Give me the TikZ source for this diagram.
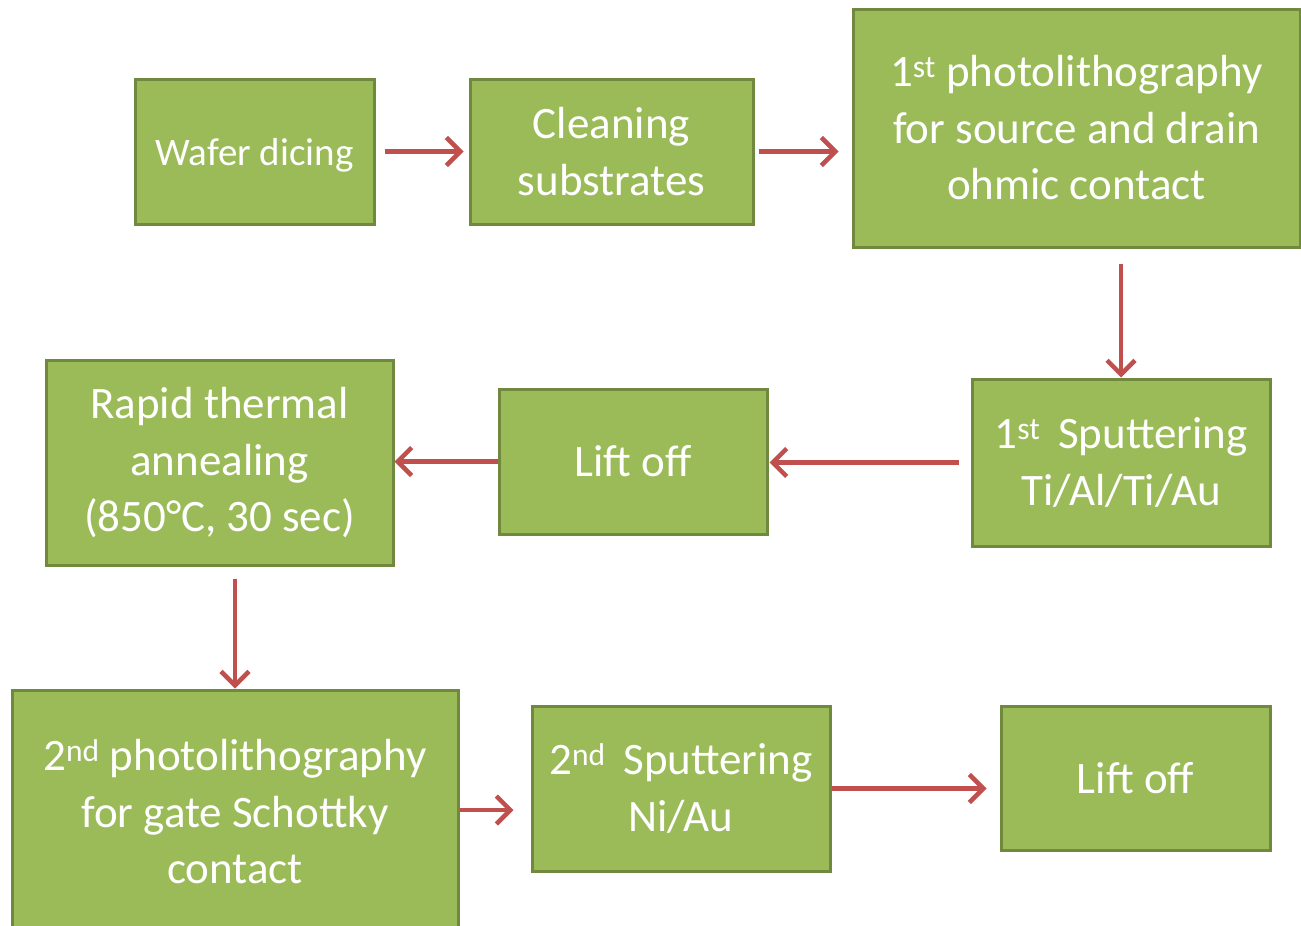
\documentclass[tikz,border=0pt]{standalone}
\usepackage{fontspec}
\setmainfont{Carlito}
\usetikzlibrary{arrows.meta}
\definecolor{boxfill}{HTML}{9BBB59}
\definecolor{boxline}{HTML}{71893F}
\definecolor{arrowred}{HTML}{C0504D}
\tikzset{
  stepbox/.style={draw=boxline, fill=boxfill, line width=3pt, text=white,
    align=center, inner sep=0pt, font=\fontsize{45}{56.5}\selectfont},
  flow/.style={draw=arrowred, line width=4.5pt,
    -{Straight Barb[length=14pt, width=28pt, line width=4.5pt]}},
}
\begin{document}
\begin{tikzpicture}[x=1pt, y=-1pt]
\useasboundingbox (0,0) rectangle (1301,926);
\clip (0,0) rectangle (1301,926);

% first row
\node[stepbox, minimum width=239pt, minimum height=145pt,
  font=\fontsize{39}{48}\selectfont] (wafer) at (254.5,151.5)
  {\raisebox{-4pt}[\height][\depth]{Wafer dicing}};
\node[stepbox, minimum width=283pt, minimum height=145pt] (clean) at (611.5,151.5)
  {Cleaning\\substrates};
\node[stepbox, minimum width=447pt, minimum height=238pt] (photoA) at (1076.5,128)
  {1\textsuperscript{st} photolithography\\for source and drain\\ohmic contact};

% second row
\node[stepbox, minimum width=298pt, minimum height=167pt] (sputA) at (1121,462.5)
  {1\textsuperscript{st}\, Sputtering\\Ti/Al/Ti/Au};
\node[stepbox, minimum width=268pt, minimum height=145pt] (liftA) at (633,461.5)
  {Lift off};
\node[stepbox, minimum width=347pt, minimum height=205pt] (rta) at (219.5,462.5)
  {Rapid thermal\\annealing\\(850{°}{}C, 30 sec)};

% third row
\node[stepbox, minimum width=446pt, minimum height=244pt] (photoB) at (235,812)
  {2\textsuperscript{nd} photolithography\\for gate Schottky\\contact};
\node[stepbox, minimum width=298pt, minimum height=165pt] (sputB) at (681,788.5)
  {2\textsuperscript{nd}\, Sputtering\\Ni/Au};
\node[stepbox, minimum width=269pt, minimum height=144pt] (liftB) at (1135.5,778)
  {Lift off};

% connectors
\draw[flow, shorten <=9pt, shorten >=5pt] (wafer.east) -- (clean.west);
\draw[flow, shorten <=4pt, shorten >=13pt] (clean.east) -- (clean.east -| photoA.west);
\draw[flow, shorten <=15pt] (sputA.north |- photoA.south) -- (sputA.north);
\draw[flow, shorten <=12pt, shorten >=1pt] (sputA.west) -- (sputA.west -| liftA.east);
\draw[flow] (liftA.west) -- (liftA.west -| rta.east);
\draw[flow, shorten <=12pt] (photoB.north |- rta.south) -- (photoB.north);
\draw[flow, shorten >=17pt] (photoB.east |- 0,810) -- (sputB.west |- 0,810);
\draw[flow, shorten >=13pt] (sputB.east) -- (sputB.east -| liftB.west);
\end{tikzpicture}
\end{document}
